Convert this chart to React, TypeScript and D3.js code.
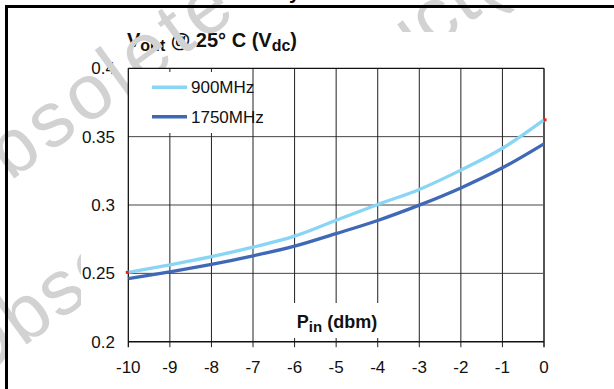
import React from 'react';
import * as d3 from 'd3';

// data
const pinDbm = [-10, -9, -8, -7, -6, -5, -4, -3, -2, -1, 0];
const vout900 = [0.2507, 0.2562, 0.2622, 0.2692, 0.2772, 0.2888, 0.3004, 0.3114, 0.3255, 0.3415, 0.3623];
const vout1750 = [0.2462, 0.2511, 0.2565, 0.2628, 0.2699, 0.2791, 0.2887, 0.2999, 0.3125, 0.3272, 0.3448];
const yTicks = [0.2, 0.25, 0.3, 0.35, 0.4];
const yTickLabels = ['0.2', '0.25', '0.3', '0.35', '0.4'];
const seriesNames = ['900MHz', '1750MHz'];
const seriesColors = ['#88d5f6', '#3f68b6'];
const watermark = 'Obsolete Product(s)';

const W = 614;
const H = 389;
const font = 'Liberation Sans, Arial, Helvetica, sans-serif';

export default function App() {
  const margin = { left: 128.3, right: 544, top: 68.3, bottom: 341.7 };
  const x = d3.scaleLinear().domain([-10, 0]).range([margin.left, margin.right]);
  const y = d3.scaleLinear().domain([0.2, 0.4]).range([margin.bottom, margin.top]);

  const line = d3.line<number>()
    .x((_, i) => x(pinDbm[i]))
    .y(d => y(d))
    .curve(d3.curveMonotoneX);

  const series = [vout900, vout1750];

  const wmAngle = -36;
  const plotW = margin.right - margin.left;
  const plotH = margin.bottom - margin.top;

  return (
    <svg width={W} height={H} style={{ position: 'absolute', left: 0, top: 0, display: 'block', background: '#fff' }}
      fontFamily={font}>
      <defs>
        <clipPath id="wm1">
          <rect x={0} y={0} width={81} height={H} />
          <rect x={395} y={0} width={W - 395} height={32} />
        </clipPath>
        <clipPath id="wm2">
          <path clipRule="evenodd"
            d={`M0,0H252V${H}H0Z M${margin.left},${margin.top}V${margin.bottom}H252V${margin.top}Z`} />
        </clipPath>
      </defs>
      <rect width={W} height={H} fill="#fff" />

      {/* fragment of heading above the frame */}
      <text x={289} y={-1} fontSize={20} fontWeight="bold">y</text>

      {/* title */}
      <text x={127} y={47} fontSize={20} fontWeight="bold" fill="#111">
        V<tspan fontSize={16} dy={4}>out</tspan>
        <tspan dy={-4}> @ 25° C (V</tspan>
        <tspan fontSize={16} dy={4}>dc</tspan>
        <tspan dy={-4}>)</tspan>
      </text>

      {/* y tick labels */}
      {yTicks.map((t, i) => (
        <text key={t} x={115} y={y(t)} dy="0.36em" fontSize={17} textAnchor="end" fill="#111">
          {yTickLabels[i]}
        </text>
      ))}

      {/* x tick labels */}
      {pinDbm.map(p => (
        <text key={p} x={x(p)} y={373} fontSize={17} textAnchor="middle" fill="#111">{p}</text>
      ))}

      {/* watermark */}
      <g clipPath="url(#wm1)">
        <text transform={`translate(-28.3,384.4) rotate(${wmAngle})`} fontSize={78} letterSpacing={2} fill="#d2d2d2">
          {watermark}
        </text>
      </g>
      <g clipPath="url(#wm2)">
        <text transform={`translate(-43.2,220) rotate(${wmAngle})`} fontSize={78} letterSpacing={5} fill="#d2d2d2">
          {watermark}
        </text>
      </g>

      {/* outer frame */}
      <rect x={6.5} y={6.5} width={W + 20} height={H + 20} fill="none" stroke="#000" strokeWidth={3} />

      {/* plot area */}
      <rect x={margin.left} y={margin.top} width={plotW} height={plotH} fill="#fff" />
      {yTicks.slice(1, -1).map(t => (
        <line key={t} x1={margin.left} x2={margin.right} y1={y(t)} y2={y(t)} stroke="#444" strokeWidth={1} />
      ))}
      {pinDbm.slice(1, -1).map(p => (
        <line key={p} x1={x(p)} x2={x(p)} y1={margin.top} y2={margin.bottom + 5.5} stroke="#222" strokeWidth={1} />
      ))}
      <line x1={x(-10)} x2={x(-10)} y1={margin.top} y2={margin.bottom + 5.5} stroke="#000" strokeWidth={1.2} />
      <line x1={x(0)} x2={x(0)} y1={margin.top} y2={margin.bottom + 5.5} stroke="#555" strokeWidth={2} />
      <line x1={margin.left} x2={margin.right} y1={margin.top} y2={margin.top} stroke="#111" strokeWidth={1.2} />
      <line x1={margin.left} x2={margin.right} y1={margin.bottom} y2={margin.bottom} stroke="#111" strokeWidth={1.4} />

      {/* legend box */}
      <rect x={margin.left + 0.8} y={72} width={121} height={61} fill="#fff" />
      {seriesNames.map((name, i) => (
        <g key={name} transform={`translate(152,${87.3 + i * 29.4})`}>
          <line x1={0} x2={35} y1={0} y2={0} stroke={seriesColors[i]} strokeWidth={3.4} />
          <text x={39} y={0} dy="0.36em" fontSize={17} fill="#111">{name}</text>
        </g>
      ))}

      {/* x axis title */}
      <rect x={290} y={303} width={94} height={35} fill="#fff" />
      <text x={337} y={328} fontSize={18} fontWeight="bold" textAnchor="middle" fill="#111">
        P<tspan fontSize={15} dy={4}>in</tspan>
        <tspan dy={-4}> (dbm)</tspan>
      </text>

      {/* curves */}
      {series.map((s, i) => (
        <path key={i} d={line(s) ?? ''} fill="none" stroke={seriesColors[i]} strokeWidth={3.3} />
      ))}
      <rect x={x(-10) - 2.5} y={y(vout900[0]) - 1.5} width={3} height={3} fill="#e8201e" />
      <rect x={x(0) - 0.5} y={y(vout900[10]) - 1.5} width={3} height={3} fill="#e8201e" />
    </svg>
  );
}
